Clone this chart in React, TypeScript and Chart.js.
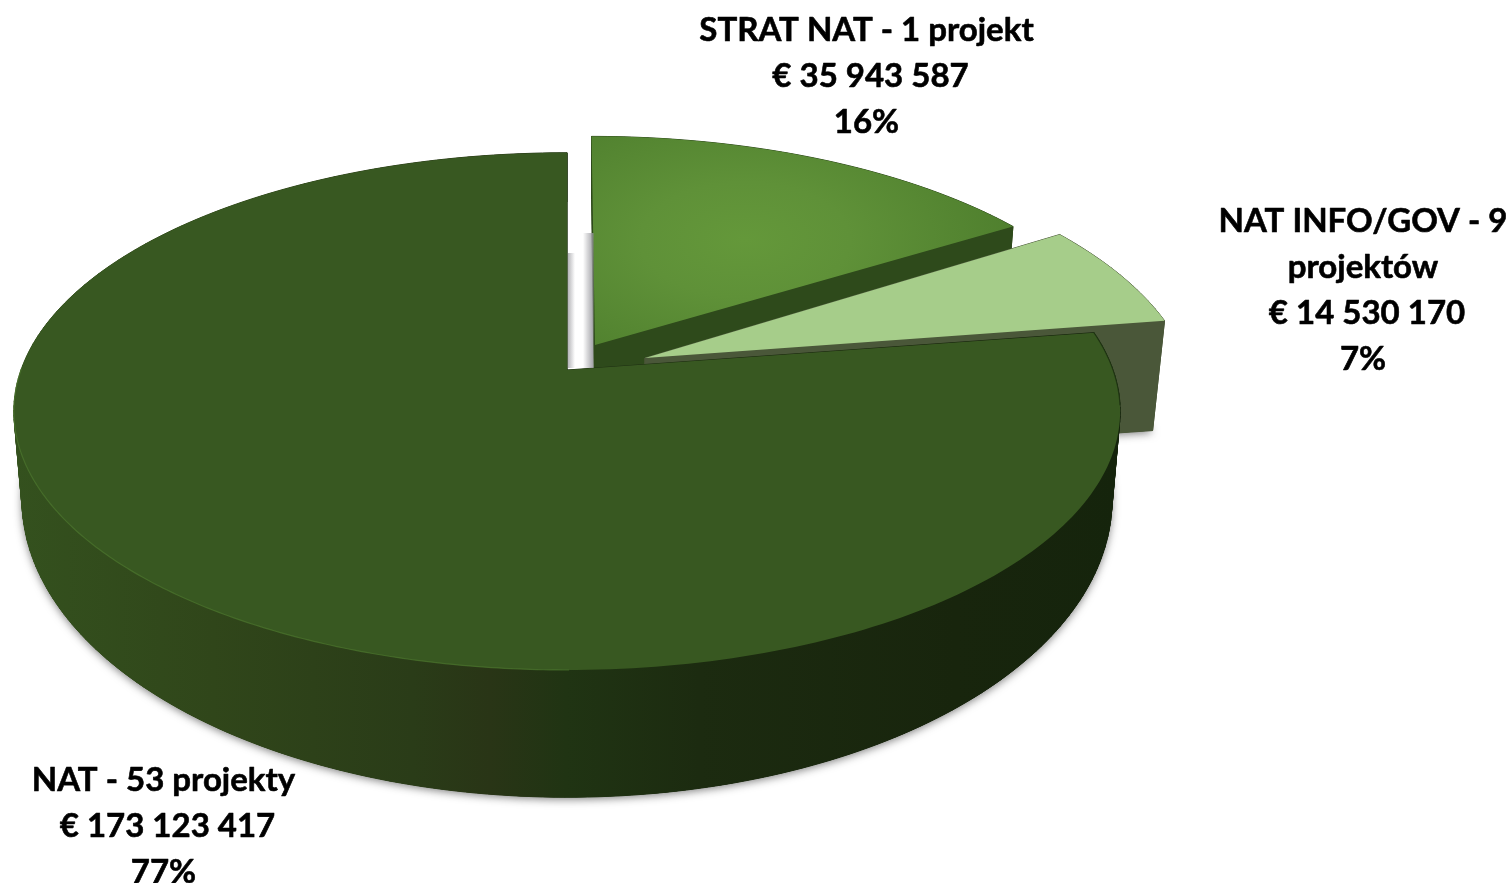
import React, { useEffect, useRef } from "react";
import { Chart, registerables } from "chart.js";

Chart.register(...registerables);

// ---- data ----
const categories = ["STRAT NAT", "NAT INFO/GOV", "NAT"];
const amounts = [35943587, 14530170, 173123417];
const labelLines = [
  ["STRAT NAT - 1 projekt", "€ 35 943 587", "16%"],
  ["NAT INFO/GOV - 9", "projektów", "€ 14 530 170", "7%"],
  ["NAT - 53 projekty", "€ 173 123 417", "77%"],
];
const topColors = ["#55872f", "#a6cd8a", "#385821"];

// ---- drawing styles ----
const labelAnchors = [
  { x: 866.5, y: 30 },
  { x: 1363, y: 221 },
  { x: 163.5, y: 780 },
];
const LINE_GAP = 46;
const Q = 0.16; // perspective strength
const projections = [
  {
    top: { ax: 595, ay: 345, f: 538, g: 242, s: -4 },
    bottom: { ax: 595, ay: 445, f: 530, g: 285, s: -4 },
  },
  {
    top: { ax: 645, ay: 358, f: 540.7, g: 252, s: -15 },
    bottom: { ax: 645, ay: 465, f: 526, g: 232, s: 0 },
  },
  {
    top: { ax: 567, ay: 370, f: 546, g: 252, s: 0 },
    bottom: { ax: 567, ay: 452, f: 538, g: 290, s: 0 },
  },
];

type Proj = { ax: number; ay: number; f: number; g: number; s: number };

function project(p: Proj, theta: number): [number, number] {
  const u = Math.sin(theta);
  const v = Math.cos(theta);
  const w = 1 + Q * v;
  return [p.ax + (p.f * u + p.s * v) / w, p.ay - (p.g * v) / w];
}

function outline(p: Proj, a: number, b: number): [number, number][] {
  const n = Math.max(2, Math.ceil(((b - a) * 180) / Math.PI));
  const pts: [number, number][] = [[p.ax, p.ay]];
  for (let i = 0; i <= n; i++) pts.push(project(p, a + ((b - a) * i) / n));
  pts.push([p.ax, p.ay]);
  return pts;
}

function tracePoly(ctx: CanvasRenderingContext2D, pts: [number, number][]) {
  ctx.beginPath();
  pts.forEach(([x, y], i) => (i ? ctx.lineTo(x, y) : ctx.moveTo(x, y)));
  ctx.closePath();
}

function wallPaint(ctx: CanvasRenderingContext2D, index: number) {
  if (index === 0) return "#2e4a1b";
  if (index === 1) return "#4a5739";
  const g = ctx.createLinearGradient(14, 0, 1120, 0);
  g.addColorStop(0, "#34511e");
  g.addColorStop(0.18, "#30461a");
  g.addColorStop(0.36, "#2a3c18");
  g.addColorStop(0.43, "#293516");
  g.addColorStop(0.5, "#203413");
  g.addColorStop(0.62, "#1c2b10");
  g.addColorStop(0.85, "#18250d");
  g.addColorStop(1, "#15240c");
  return g;
}

const pie3d = {
  id: "pie3d",
  beforeDatasetsDraw(chart: any) {
    const ctx: CanvasRenderingContext2D = chart.ctx;
    const arcs = chart.getDatasetMeta(0).data;

    arcs.forEach((arc: any, i: number) => {
      const a = arc.startAngle + Math.PI / 2;
      const b = arc.endAngle + Math.PI / 2;
      const { top, bottom } = projections[i];
      const tp = outline(top, a, b);
      const bp = outline(bottom, a, b);

      // ground shadow (kept out of the gap between the slices)
      if (i !== 0) {
        ctx.save();
        ctx.beginPath();
        ctx.rect(0, 0, chart.width, chart.height);
        ctx.rect(567, 0, 28, 369);
        ctx.clip("evenodd");
        ctx.shadowColor = "rgba(40,40,40,0.6)";
        ctx.shadowBlur = 9;
        ctx.shadowOffsetY = 2;
        ctx.fillStyle = "#333";
        tracePoly(ctx, bp);
        ctx.fill();
        ctx.restore();
      }

      // extruded wall
      const paint = wallPaint(ctx, i);
      ctx.fillStyle = paint;
      ctx.strokeStyle = paint;
      ctx.lineWidth = 1;
      tracePoly(ctx, bp);
      ctx.fill();
      for (let k = 0; k < tp.length - 1; k++) {
        ctx.beginPath();
        ctx.moveTo(tp[k][0], tp[k][1]);
        ctx.lineTo(tp[k + 1][0], tp[k + 1][1]);
        ctx.lineTo(bp[k + 1][0], bp[k + 1][1]);
        ctx.lineTo(bp[k][0], bp[k][1]);
        ctx.closePath();
        ctx.fill();
        ctx.stroke();
      }

      // top face
      ctx.save();
      tracePoly(ctx, tp);
      if (i === 0) {
        ctx.translate(745, 240);
        ctx.scale(1, 0.55);
        const g = ctx.createRadialGradient(0, 0, 0, 0, 0, 300);
        g.addColorStop(0, "#64983a");
        g.addColorStop(0.35, "#5f9138");
        g.addColorStop(1, "#4c7c2c");
        ctx.fillStyle = g;
      } else {
        ctx.fillStyle = topColors[i];
      }
      ctx.fill();
      ctx.restore();

      // rim on the big slice
      if (i === 2) {
        const rim = (from: number, to: number, color: string, w: number) => {
          ctx.beginPath();
          for (let t = from; t <= to; t += 0.01) {
            const [x, y] = project(top, t);
            t === from ? ctx.moveTo(x, y) : ctx.lineTo(x, y);
          }
          ctx.strokeStyle = color;
          ctx.lineWidth = w;
          ctx.stroke();
        };
        rim(a, a + 0.3, "rgba(30,51,17,0.8)", 1.2);
        rim(a + 1.72, a + 3.3, "rgba(78,122,48,0.65)", 1.2);
      }
    });

    // soft shadows in the gap between the big slice and the detached one
    ctx.save();
    let sh = ctx.createLinearGradient(567, 0, 575, 0);
    sh.addColorStop(0, "rgba(150,150,155,0.8)");
    sh.addColorStop(1, "rgba(150,150,155,0)");
    ctx.fillStyle = sh;
    ctx.fillRect(568, 253, 8, 115);
    sh = ctx.createLinearGradient(583, 0, 593, 0);
    sh.addColorStop(0, "rgba(150,150,155,0)");
    sh.addColorStop(1, "rgba(150,150,155,0.85)");
    ctx.fillStyle = sh;
    ctx.fillRect(583, 233, 10.5, 135);
    ctx.restore();
    return false;
  },
  afterDraw(chart: any) {
    const ctx: CanvasRenderingContext2D = chart.ctx;
    ctx.save();
    ctx.fillStyle = "#000";
    ctx.strokeStyle = "#000";
    ctx.lineWidth = 0.6;
    ctx.lineJoin = "round";
    ctx.font = 'bold 33px Lato, "Open Sans", sans-serif';
    ctx.textAlign = "center";
    ctx.textBaseline = "middle";
    labelLines.forEach((lines, i) => {
      lines.forEach((line, k) => {
        const x = labelAnchors[i].x + (line.startsWith("€") ? 4 : 0);
        const y = labelAnchors[i].y + k * LINE_GAP;
        ctx.fillText(line, x, y);
        ctx.strokeText(line, x, y);
      });
    });
    ctx.restore();
  },
};

export default function App() {
  const ref = useRef<HTMLCanvasElement>(null);
  useEffect(() => {
    const chart = new Chart(ref.current as HTMLCanvasElement, {
      type: "pie",
      data: {
        labels: categories,
        datasets: [{ data: amounts, backgroundColor: topColors, borderWidth: 0 }],
      },
      options: {
        animation: false,
        responsive: false,
        devicePixelRatio: 1,
        rotation: 0,
        plugins: { legend: { display: false }, tooltip: { enabled: false } },
      },
      plugins: [pie3d as any],
    });
    return () => chart.destroy();
  }, []);
  return (
    <div style={{ position: "fixed", left: 0, top: 0, width: 1508, height: 883, background: "#fff" }}>
      <canvas ref={ref} width={1508} height={883} style={{ display: "block" }} />
    </div>
  );
}
